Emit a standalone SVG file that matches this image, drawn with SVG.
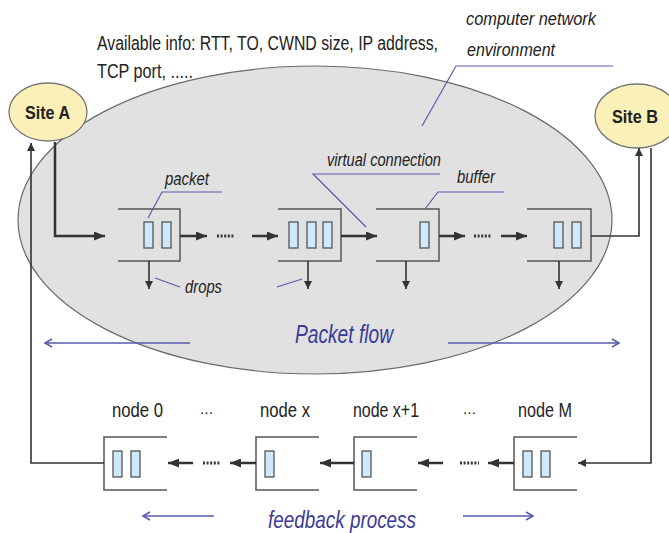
<svg xmlns="http://www.w3.org/2000/svg" width="669" height="533" viewBox="0 0 669 533">
  <style>
    .txt { font-family: "Liberation Sans Narrow", "Liberation Sans", Arial, sans-serif; fill: #222; }
    .it { font-style: italic; }
    .blue { fill: #3a3a98; }
    .box { fill: none; stroke: #555; stroke-width: 1.5; }
    .pkt { fill: #cde9fb; stroke: #555; stroke-width: 1.3; }
    .flow { fill: none; stroke: #333; stroke-width: 2.5; }
    .thin { fill: none; stroke: #333; stroke-width: 1.6; }
    .dots { fill: none; stroke: #333; stroke-width: 3; stroke-dasharray: 2 1.6; }
    .call { fill: none; stroke: #5a5aae; stroke-width: 1.2; }
    .dir { fill: none; stroke: #5a5aae; stroke-width: 1.6; }
    .site { fill: #fcf0b9; stroke: #777; stroke-width: 1.3; }
  </style>
  <defs>
    <marker id="ah" markerUnits="userSpaceOnUse" markerWidth="11" markerHeight="9" refX="11" refY="4.5" orient="auto">
      <path d="M0,0 L11,4.5 L0,9 z" fill="#333"/>
    </marker>
    <marker id="ahs" markerUnits="userSpaceOnUse" markerWidth="8" markerHeight="8" refX="8" refY="4" orient="auto">
      <path d="M0,0 L8,4 L0,8 z" fill="#333"/>
    </marker>
    <marker id="ahb" markerUnits="userSpaceOnUse" markerWidth="10" markerHeight="10" refX="8" refY="5" orient="auto">
      <path d="M1,1 L8,5 L1,9" fill="none" stroke="#5a5aae" stroke-width="1.6"/>
    </marker>
  </defs>

  <!-- network cloud -->
  <g id="network">
    <ellipse cx="315" cy="220" rx="297" ry="154" fill="#e1e1e1" stroke="#6a6a6a" stroke-width="1.2"/>
  </g>

  <!-- header text (tall, condensed lettering) -->
  <text class="txt" transform="translate(97,50) scale(1,1.25)" x="0" y="0" font-size="16" textLength="341" lengthAdjust="spacingAndGlyphs">Available info: RTT, TO, CWND size, IP address,</text>
  <text class="txt" transform="translate(97,78) scale(1,1.25)" x="0" y="0" font-size="16" textLength="96" lengthAdjust="spacingAndGlyphs">TCP port, .....</text>
  <text class="txt it" x="466" y="25" font-size="19" fill="#333" textLength="130" lengthAdjust="spacingAndGlyphs">computer network</text>
  <text class="txt it" x="467" y="56" font-size="19" fill="#333" textLength="88" lengthAdjust="spacingAndGlyphs">environment</text>

  <!-- end sites -->
  <g id="siteA">
    <ellipse class="site" cx="48" cy="112" rx="39" ry="29"/>
    <text class="txt" x="25" y="119" font-size="19" font-weight="bold" textLength="45" lengthAdjust="spacingAndGlyphs">Site A</text>
  </g>
  <g id="siteB">
    <ellipse class="site" cx="637" cy="116" rx="42" ry="32"/>
    <text class="txt" x="612" y="123" font-size="19" font-weight="bold" textLength="46" lengthAdjust="spacingAndGlyphs">Site B</text>
  </g>

  <!-- forward queues -->
  <g id="q1">
    <path class="box" d="M118,209 H180 V261 H118"/>
    <rect class="pkt" x="144" y="222" width="9" height="26"/>
    <rect class="pkt" x="162" y="222" width="9" height="26"/>
  </g>
  <g id="q2">
    <path class="box" d="M278,209 H341 V261 H278"/>
    <rect class="pkt" x="289" y="222" width="9" height="26"/>
    <rect class="pkt" x="307" y="222" width="9" height="26"/>
    <rect class="pkt" x="323" y="222" width="9" height="26"/>
  </g>
  <g id="q3">
    <path class="box" d="M376,209 H439 V261 H376"/>
    <rect class="pkt" x="420" y="222" width="9" height="26"/>
  </g>
  <g id="q4">
    <path class="box" d="M527,209 H591 V261 H527"/>
    <rect class="pkt" x="554" y="222" width="9" height="26"/>
    <rect class="pkt" x="572" y="222" width="9" height="26"/>
  </g>

  <!-- feedback queues -->
  <g id="n0">
    <text class="txt" x="112" y="417" font-size="20" textLength="51" lengthAdjust="spacingAndGlyphs">node 0</text>
    <path class="box" d="M167,437 H104 V490 H167"/>
    <rect class="pkt" x="113" y="451" width="9" height="26"/>
    <rect class="pkt" x="131" y="451" width="9" height="26"/>
  </g>
  <text class="txt" x="200" y="414" font-size="15" textLength="13" lengthAdjust="spacingAndGlyphs">...</text>
  <g id="nx">
    <text class="txt" x="260" y="417" font-size="20" textLength="50" lengthAdjust="spacingAndGlyphs">node x</text>
    <path class="box" d="M319,437 H256 V490 H319"/>
    <rect class="pkt" x="265" y="451" width="9" height="26"/>
  </g>
  <g id="nx1">
    <text class="txt" x="353" y="417" font-size="20" textLength="66" lengthAdjust="spacingAndGlyphs">node x+1</text>
    <path class="box" d="M417,437 H354 V490 H417"/>
    <rect class="pkt" x="362" y="451" width="9" height="26"/>
  </g>
  <text class="txt" x="463" y="414" font-size="15" textLength="13" lengthAdjust="spacingAndGlyphs">...</text>
  <g id="nM">
    <text class="txt" x="518" y="417" font-size="20" textLength="54" lengthAdjust="spacingAndGlyphs">node M</text>
    <path class="box" d="M577,437 H514 V490 H577"/>
    <rect class="pkt" x="523" y="451" width="9" height="26"/>
    <rect class="pkt" x="541" y="451" width="9" height="26"/>
  </g>

  <!-- connectors -->
  <g id="connectors">
    <!-- forward path -->
    <path class="flow" d="M55,142 V236 H105" marker-end="url(#ah)"/>
    <path class="flow" d="M180,236 H207" marker-end="url(#ah)"/>
    <path class="dots" d="M217,236 H234"/>
    <path class="flow" d="M252,236 H278" marker-end="url(#ah)"/>
    <path class="flow" d="M341,236 H377" marker-end="url(#ah)"/>
    <path class="flow" d="M439,236 H465" marker-end="url(#ah)"/>
    <path class="dots" d="M474,236 H492"/>
    <path class="flow" d="M501,236 H527" marker-end="url(#ah)"/>
    <path class="thin" d="M591,236 H639 V148" stroke-width="2" marker-end="url(#ahs)"/>
    <!-- drops -->
    <path class="thin" d="M149,261 V289" marker-end="url(#ahs)"/>
    <path class="thin" d="M308,261 V289" marker-end="url(#ahs)"/>
    <path class="thin" d="M406,261 V289" marker-end="url(#ahs)"/>
    <path class="thin" d="M559,261 V289" marker-end="url(#ahs)"/>
    <!-- feedback path -->
    <path class="thin" d="M651,148 V463 H578" stroke-width="2" marker-end="url(#ahs)"/>
    <path class="flow" d="M514,463 H488" marker-end="url(#ah)"/>
    <path class="dots" d="M460,463 H479"/>
    <path class="flow" d="M443,463 H418" marker-end="url(#ah)"/>
    <path class="flow" d="M354,463 H320" marker-end="url(#ah)"/>
    <path class="flow" d="M256,463 H230" marker-end="url(#ah)"/>
    <path class="dots" d="M203,463 H221"/>
    <path class="flow" d="M193,463 H168" marker-end="url(#ah)"/>
    <path class="thin" d="M104,463 H31 V143" stroke-width="2" marker-end="url(#ahs)"/>
  </g>

  <!-- callouts -->
  <g id="callouts">
    <path class="call" d="M422,126 L456,66 H613"/>
    <path class="call" d="M148,218 L162,192 H222"/>
    <path class="call" d="M440,174 H313 L366,227"/>
    <path class="call" d="M425,209 L438,192 H504"/>
    <path class="call" d="M155,278 L180,287"/>
    <path class="call" d="M277,287 L302,279"/>
  </g>
  <text class="txt it" x="165" y="185" font-size="18" fill="#333" textLength="44" lengthAdjust="spacingAndGlyphs">packet</text>
  <text class="txt it" x="327" y="166" font-size="18" fill="#333" textLength="114" lengthAdjust="spacingAndGlyphs">virtual connection</text>
  <text class="txt it" x="457" y="183" font-size="18" fill="#333" textLength="38" lengthAdjust="spacingAndGlyphs">buffer</text>
  <text class="txt it" x="185" y="293" font-size="18" fill="#333" textLength="37" lengthAdjust="spacingAndGlyphs">drops</text>

  <!-- flow direction labels -->
  <g id="directions">
    <path class="dir" d="M190,343 H45" marker-end="url(#ahb)"/>
    <path class="dir" d="M448,343 H619" marker-end="url(#ahb)"/>
    <path class="dir" d="M214,516 H143" marker-end="url(#ahb)"/>
    <path class="dir" d="M463,516 H533" marker-end="url(#ahb)"/>
  </g>
  <text class="txt it blue" x="295" y="343" font-size="25" textLength="98" lengthAdjust="spacingAndGlyphs">Packet flow</text>
  <text class="txt it blue" x="268" y="528" font-size="24" textLength="148" lengthAdjust="spacingAndGlyphs">feedback process</text>
</svg>
